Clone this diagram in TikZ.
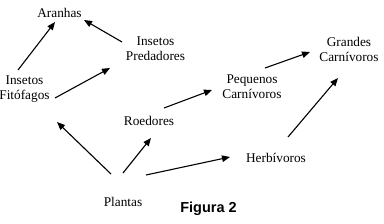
\documentclass[tikz,border=0pt]{standalone}
\usepackage{fontspec}
\setmainfont{Liberation Serif}
\newfontfamily\figfont{Liberation Sans}
\usetikzlibrary{arrows.meta}
\begin{document}
\begin{tikzpicture}[x=1pt,y=-1pt,>={Triangle[length=8pt,width=6.5pt]},
  every node/.style={inner sep=0pt, align=center, font=\fontsize{13.3}{15}\selectfont},
  link/.style={->, line width=1.1pt}]
\useasboundingbox (0,0) rectangle (384,223);
\node (aranhas) at (59.5,12.5) {Aranhas};
\node (pred) at (155.5,49) {Insetos\\Predadores};
\node (fito) at (24.5,89.5) {Insetos\\Fitófagos};
\node (peq) at (252,87) {Pequenos\\Carnívoros};
\node (grandes) at (349,49.5) {Grandes\\Carnívoros};
\node (roed) at (149,121) {Roedores};
\node (herb) at (276,158) {Herbívoros};
\node (plantas) at (123,202) {Plantas};
\node[font=\figfont\bfseries\fontsize{14.5}{16}\selectfont] (fig) at (208.5,209) {Figura 2};
\draw[link] ([shift={(-6.5,-19.5)}]fito.center) -- ([shift={(-4.5,9.5)}]aranhas.center);
\draw[link] ([shift={(-33.5,-7)}]pred.center) -- ([shift={(24.5,7.5)}]aranhas.center);
\draw[link] ([shift={(30.5,8.5)}]fito.center) -- ([shift={(-45.5,19)}]pred.center);
\draw[link] ([shift={(15,-13)}]roed.center) -- ([shift={(-40,3)}]peq.center);
\draw[link] ([shift={(13,-19)}]peq.center) -- ([shift={(-39,2.5)}]grandes.center);
\draw[link] ([shift={(12,-21)}]herb.center) -- ([shift={(-11,28.5)}]grandes.center);
\draw[link] ([shift={(-12,-28)}]plantas.center) -- ([shift={(32.5,32.5)}]fito.center);
\draw[link] ([shift={(0,-29)}]plantas.center) -- ([shift={(2,17)}]roed.center);
\draw[link] ([shift={(23,-27)}]plantas.center) -- ([shift={(-46,-1)}]herb.center);
\end{tikzpicture}
\end{document}
